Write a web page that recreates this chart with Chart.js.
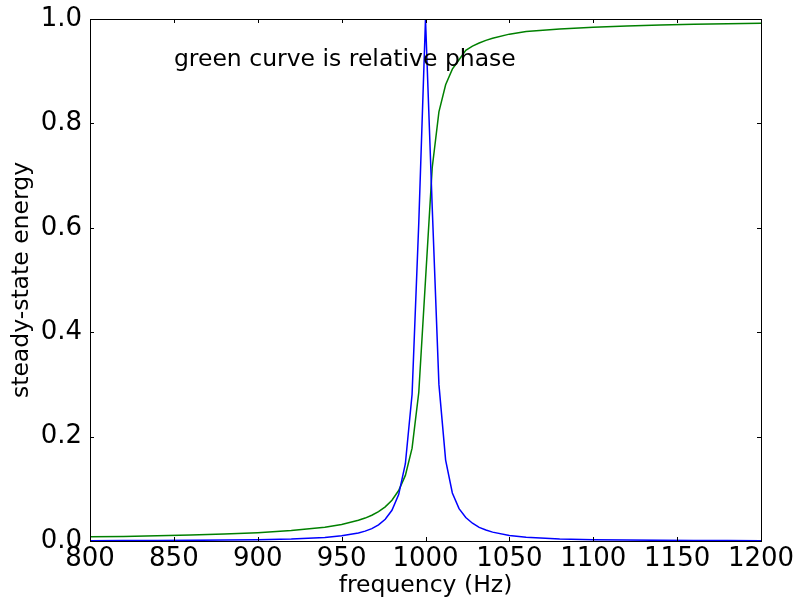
<!DOCTYPE html>
<html>
<head>
<meta charset="utf-8">
<script src="https://cdn.jsdelivr.net/npm/chart.js@4.4.0/dist/chart.umd.min.js"></script>
<style>
  body { margin: 0; background: #fff; }
  #chart { display: block; }
</style>
</head>
<body>
<canvas id="chart" width="796" height="601"></canvas>
<script>
// values
const freq = [800, 820, 840, 860, 880, 900, 920, 940, 950, 960, 964, 968, 972, 976, 980, 984, 988, 992, 996,
  1000, 1004, 1008, 1012, 1016, 1020, 1024, 1028, 1032, 1036, 1040, 1050, 1060, 1080, 1100, 1120, 1140, 1160, 1180, 1200];
const energy = [0.0006, 0.0008, 0.001, 0.0013, 0.0017, 0.0025, 0.0039, 0.0069, 0.0099, 0.0154, 0.0189, 0.0238, 0.0309, 0.0416, 0.0588, 0.089, 0.148, 0.281, 0.61,
  1.0, 0.64, 0.30, 0.155, 0.092, 0.062, 0.045, 0.034, 0.026, 0.021, 0.017, 0.0105, 0.0072, 0.004, 0.0026, 0.0018, 0.0013, 0.001, 0.0008, 0.0006];
const phase = [0.008, 0.0088, 0.0099, 0.0114, 0.0132, 0.0159, 0.0199, 0.0264, 0.0317, 0.0396, 0.0439, 0.0494, 0.0563, 0.0654, 0.078, 0.0967, 0.1257, 0.1778, 0.285,
  0.5, 0.715, 0.822, 0.874, 0.904, 0.922, 0.94, 0.948, 0.954, 0.959, 0.963, 0.971, 0.976, 0.981, 0.984, 0.9868, 0.9886, 0.990, 0.991, 0.992];
const xTicks = [800, 850, 900, 950, 1000, 1050, 1100, 1150, 1200];
const yTicks = [0.0, 0.2, 0.4, 0.6, 0.8, 1.0];

const noteText = 'green curve is relative phase';
const noteX = 850, noteY = 0.91;

const FONT = 'DejaVu Sans';
const ctx = document.getElementById('chart');

const toPoints = (ys) => freq.map((f, i) => ({ x: f, y: ys[i] }));

// matplotlib style frame, inward ticks, and the text note
const framePlugin = {
  id: 'frame',
  afterDraw(chart) {
    const { ctx: c, chartArea: a, scales } = chart;
    c.save();
    c.strokeStyle = '#000';
    c.lineWidth = 1;
    c.beginPath();
    xTicks.forEach((t) => {
      const px = Math.round(scales.x.getPixelForValue(t)) + 0.5;
      c.moveTo(px, a.bottom); c.lineTo(px, a.bottom - 4);
      c.moveTo(px, a.top); c.lineTo(px, a.top + 4);
    });
    yTicks.forEach((t) => {
      const py = Math.round(scales.y.getPixelForValue(t)) + 0.5;
      c.moveTo(a.left, py); c.lineTo(a.left + 4, py);
      c.moveTo(a.right, py); c.lineTo(a.right - 4, py);
    });
    c.stroke();
    c.strokeRect(a.left + 0.5, a.top + 0.5, a.right - a.left, a.bottom - a.top);

    c.fillStyle = '#000';
    c.font = '23.5px "' + FONT + '"';
    c.textAlign = 'left';
    c.textBaseline = 'alphabetic';
    c.fillText(noteText, scales.x.getPixelForValue(noteX), scales.y.getPixelForValue(noteY));
    c.restore();
  }
};

// no extra room for overhanging first/last labels, the layout padding decides
const noOverhang = (s) => { s.paddingLeft = 0; s.paddingRight = 0; s.paddingTop = 0; s.paddingBottom = 0; };

new Chart(ctx, {
  type: 'line',
  data: {
    datasets: [
      { label: 'energy', data: toPoints(energy), borderColor: '#0000ff', borderWidth: 1.5, pointRadius: 0, tension: 0, fill: false },
      { label: 'phase', data: toPoints(phase), borderColor: '#008000', borderWidth: 1.5, pointRadius: 0, tension: 0, fill: false }
    ]
  },
  options: {
    responsive: false,
    animation: false,
    devicePixelRatio: 1,
    layout: { padding: { left: 0, top: 19, right: 35, bottom: 0 } },
    plugins: { legend: { display: false }, tooltip: { enabled: false } },
    scales: {
      x: {
        type: 'linear',
        min: 800, max: 1200,
        afterBuildTicks: (s) => { s.ticks = xTicks.map((v) => ({ value: v })); },
        afterFit: (s) => { s.height = 60; noOverhang(s); },
        grid: { display: false, drawTicks: false },
        border: { display: false },
        ticks: { color: '#000', font: { family: FONT, size: 26 }, padding: 3, maxRotation: 0, autoSkip: false, callback: (v) => String(v) },
        title: { display: true, text: 'frequency (Hz)', color: '#000', font: { family: FONT, size: 23.5 }, padding: { top: 0, bottom: 1 } }
      },
      y: {
        min: 0, max: 1,
        afterBuildTicks: (s) => { s.ticks = yTicks.map((v) => ({ value: v })); },
        afterFit: (s) => { s.width = 90; noOverhang(s); },
        grid: { display: false, drawTicks: false },
        border: { display: false },
        ticks: { color: '#000', font: { family: FONT, size: 26 }, padding: 8, callback: (v) => v.toFixed(1) },
        title: { display: true, text: 'steady-state energy', color: '#000', font: { family: FONT, size: 23.5 }, padding: 8 }
      }
    }
  },
  plugins: [framePlugin]
});
</script>
</body>
</html>
